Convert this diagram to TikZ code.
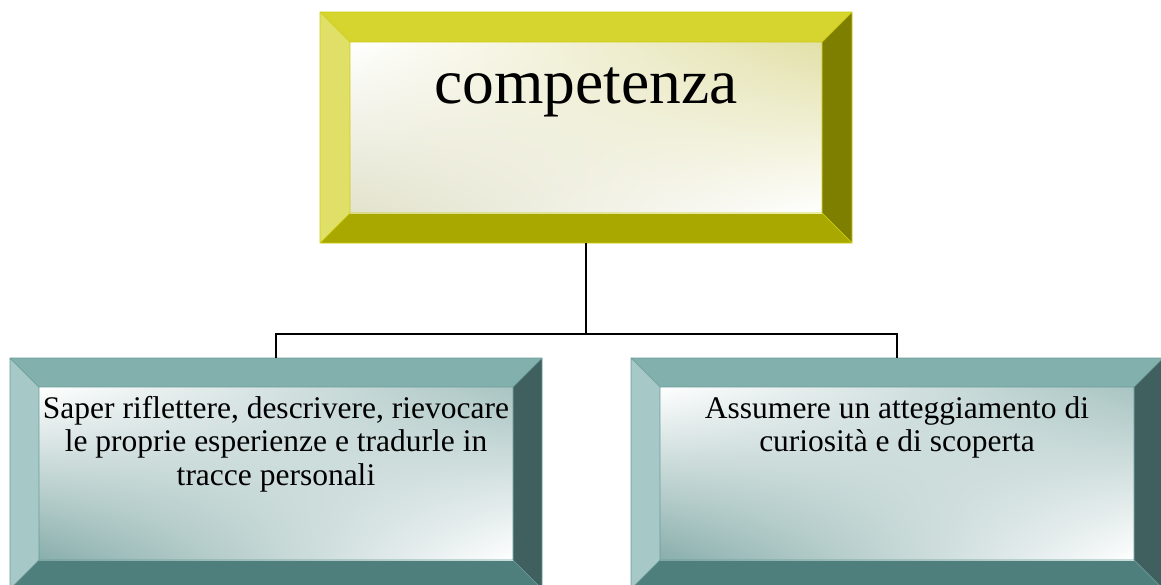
\documentclass[tikz,border=0pt]{standalone}
\usepackage{fontspec}
\setmainfont{Liberation Serif}
\usetikzlibrary{shadings}
% yellow scheme
\definecolor{yTop}{HTML}{D6D42E}
\definecolor{yLeft}{HTML}{E0E068}
\definecolor{yRight}{HTML}{7E7E00}
\definecolor{yBot}{HTML}{A8A800}
\definecolor{yEdge}{HTML}{CCCC10}
\definecolor{yUL}{HTML}{FFFFFF}
\definecolor{yUR}{HTML}{E2E0A8}
\definecolor{yLL}{HTML}{E2E2CC}
\definecolor{yLR}{HTML}{FFFFFF}
% teal scheme
\definecolor{tTop}{HTML}{82B0AD}
\definecolor{tLeft}{HTML}{A6C8C6}
\definecolor{tRight}{HTML}{406060}
\definecolor{tBot}{HTML}{4F7F7C}
\definecolor{tEdge}{HTML}{6A9C99}
\definecolor{tUL}{HTML}{FFFFFF}
\definecolor{tUR}{HTML}{A8C4C2}
\definecolor{tLL}{HTML}{88AEAB}
\definecolor{tLR}{HTML}{FFFFFF}
\tikzset{
  conn/.style={draw=black, line width=1.8pt},
  edgeline/.style={line width=0.7pt},
  boxtext/.style={inner sep=0pt, align=center, anchor=north,
    font=\fontsize{31.5}{33.5}\selectfont},
}
\newcommand{\bevbox}[7]{%
  % #1 name, #2 x1, #3 y1, #4 x2, #5 y2, #6 bevel, #7 scheme
  \fill[#7Top] (#2,#3) -- (#4,#3) -- (#4-#6,#3+#6) -- (#2+#6,#3+#6) -- cycle;
  \fill[#7Left] (#2,#3) -- (#2+#6,#3+#6) -- (#2+#6,#5-#6) -- (#2,#5) -- cycle;
  \fill[#7Right] (#4,#3) -- (#4,#5) -- (#4-#6,#5-#6) -- (#4-#6,#3+#6) -- cycle;
  \fill[#7Bot] (#2,#5) -- (#4,#5) -- (#4-#6,#5-#6) -- (#2+#6,#5-#6) -- cycle;
  \shade[upper left=#7UL, upper right=#7UR, lower left=#7LL, lower right=#7LR]
    (#2+#6,#3+#6) rectangle (#4-#6,#5-#6);
  \draw[#7Edge, edgeline] (#2,#3) rectangle (#4,#5)
    (#2+#6,#3+#6) rectangle (#4-#6,#5-#6)
    (#2,#3) -- (#2+#6,#3+#6) (#4,#3) -- (#4-#6,#3+#6)
    (#2,#5) -- (#2+#6,#5-#6) (#4,#5) -- (#4-#6,#5-#6);
  \node[inner sep=0pt, outer sep=0pt, minimum width=#4pt-#2pt,
    minimum height=#5pt-#3pt] (#1) at ({(#2+#4)/2},{(#3+#5)/2}) {};
}
\begin{document}
\begin{tikzpicture}[x=1pt, y=-1pt]
  \useasboundingbox (0,0) rectangle (1161,584);
  \clip (0,0) rectangle (1161,584);
  \bevbox{comp}{320}{12}{852}{243}{30}{y}
  \bevbox{lbox}{10}{358}{542}{589}{29}{t}
  \bevbox{rbox}{631}{358}{1163}{589}{29}{t}
  \node[inner sep=0pt, anchor=base, font=\fontsize{63.5}{70}\selectfont]
    (comptext) at (586,103) {competenza};
  \node[boxtext] (ltext) at (276,396)
    {Saper riflettere, descrivere, rievocare\\le proprie esperienze e tradurle in\\tracce personali};
  \node[boxtext] (rtext) at (897,396)
    {Assumere un atteggiamento di\\curiosità e di scoperta};
  \coordinate (bus) at (586,334);
  \draw[conn] (comp.south) -- (bus) -| (lbox.north);
  \draw[conn] (bus) -| (rbox.north);
\end{tikzpicture}
\end{document}
